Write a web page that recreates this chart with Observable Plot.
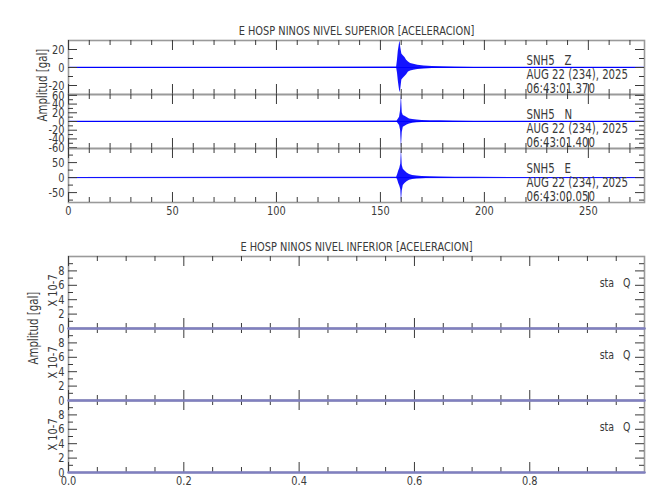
<!DOCTYPE html>
<html><head><meta charset="utf-8">
<script src="https://cdn.jsdelivr.net/npm/d3@7"></script>
<script src="https://cdn.jsdelivr.net/npm/@observablehq/plot@0.6"></script>
<style>
body{margin:0;background:#fff;}
#chart{position:relative;width:650px;height:500px;background:#fff;}
#chart svg text{white-space:pre;}
</style></head><body><div id="chart"></div>
<script>
// ---------- texts ----------
const topTitle = "E HOSP NINOS NIVEL SUPERIOR [ACELERACION]";
const botTitle = "E HOSP NINOS NIVEL INFERIOR [ACELERACION]";
const yLabel = "Amplitud [gal]";
const scaleLabel = "X 10-7";
const stations = ["SNH5   Z", "SNH5   N", "SNH5   E"];
const dates = ["AUG 22 (234), 2025", "AUG 22 (234), 2025", "AUG 22 (234), 2025"];
const times = ["06:43:01.370", "06:43:01.400", "06:43:00.050"];
const lowerStations = ["sta   Q", "sta   Q", "sta   Q"];

// ---------- axes ----------
const topXDomain = [0, 277];
const topXTicks = [0, 50, 100, 150, 200, 250];
const topXMinor = [10, 20, 30, 40, 60, 70, 80, 90, 110, 120, 130, 140, 160, 170, 180, 190, 210, 220, 230, 240, 260, 270];
const botXDomain = [0, 0.999];
const botXTicks = [0, 0.2, 0.4, 0.6, 0.8];
const botXMinor = [0.05, 0.1, 0.15, 0.25, 0.3, 0.35, 0.45, 0.5, 0.55, 0.65, 0.7, 0.75, 0.85, 0.9, 0.95];
const topYDomains = [[-30, 30], [-62, 62], [-83, 97]];
const topYTicks = [[-20, 0, 20], [-60, -40, -20, 0, 20, 40, 60], [-50, 0, 50]];
const topYMinor = [[-10, 10], [-50, -30, -10, 10, 30, 50], [-75, -25, 25, 75]];
const botYDomain = [0, 10];
const botYTicks = [0, 2, 4, 6, 8];
const botYMinor = [1, 3, 5, 7, 9];

// ---------- waveform envelopes (seconds, upper, lower) ----------
const zT  = [0, 157.8, 158.2, 158.6, 159.0, 159.4, 159.8, 160.3, 161.0, 161.8, 162.6, 163.5, 164.5, 166, 168, 171, 175, 180, 186, 195, 277];
const zHi = [0.3, 0.5, 8, 18, 24, 30, 22, 15, 13, 11, 8, 6, 4.5, 3.5, 2.5, 1.8, 1.2, 0.8, 0.5, 0.3, 0.3];
const zLo = [-0.3, -0.5, -6, -15, -22, -28, -24, -14, -12, -10, -8, -5, -4, -3, -2.2, -1.6, -1.1, -0.8, -0.5, -0.3, -0.3];
const nT  = [0, 158.0, 158.6, 159.2, 159.7, 160.1, 160.5, 161.0, 161.8, 162.8, 164, 165.5, 167.5, 170, 174, 179, 185, 195, 277];
const nHi = [0.5, 1, 5, 10, 25, 62, 20, 14, 12, 9, 6, 4.5, 3.5, 2.5, 2, 1.5, 1, 0.6, 0.5];
const nLo = [-0.5, -1, -5, -9, -20, -62, -25, -13, -11, -8, -6, -4, -3, -2.5, -2, -1.5, -1, -0.6, -0.5];
const eT  = [0, 157.8, 158.3, 158.8, 159.3, 159.8, 160.1, 160.5, 161.0, 161.8, 162.8, 164, 165.5, 167.5, 170, 174, 179, 186, 195, 277];
const eHi = [0.5, 1, 10, 22, 30, 45, 97, 40, 28, 22, 15, 10, 7, 5, 4, 3, 2, 1.2, 0.8, 0.5];
const eLo = [-0.5, -1, -8, -20, -28, -40, -83, -45, -26, -20, -14, -9, -6, -5, -3.5, -2.5, -2, -1.2, -0.8, -0.5];
// lower level: flat traces (zero)
const qT = [0, 0.999];
const qV = [0, 0];

const envelopes = [[zT, zHi, zLo], [nT, nHi, nLo], [eT, eHi, eLo]].map(([t, hi, lo]) => t.map((d, i) => ({t: d, hi: hi[i], lo: lo[i]})));
const flat = qT.map((d, i) => ({t: d, v: qV[i]}));

// ---------- layout ----------
const W = 650, ML = 68, MR = 6;
const FONT = '"DejaVu Sans Condensed","DejaVu Sans",sans-serif';
const INK = "#3a3a3a";
const NARROW = 0.84; // horizontal squeeze to mimic the thin vector font
const chart = document.getElementById("chart");

function squeeze(svg) {
  svg.querySelectorAll("text").forEach(t => {
    const old = t.getAttribute("transform") || "";
    t.setAttribute("transform", `${old} scale(${NARROW},1)`);
  });
}

function panel({top, h, xDomain, xMajor, xMinor, yDomain, yMajor, yMinor, yFormat, marks, overMarks, xLabels, xFormat}) {
  const mt = 30, mb = 24;
  const inner = W - ML - MR;
  const svg = Plot.plot({
    width: W, height: h + mt + mb,
    marginLeft: ML, marginRight: MR, marginTop: mt, marginBottom: mb,
    x: {domain: xDomain, axis: null},
    y: {domain: yDomain, axis: null},
    style: {background: "transparent", overflow: "visible", position: "absolute", left: "0px", top: (top - mt) + "px", fontFamily: FONT, fontSize: "13px", color: INK},
    marks: [
      ...marks,
      Plot.frame({stroke: "#9a9a9a", strokeWidth: 1.6}),
      Plot.tickX(xMajor, {x: d => d, insetBottom: h - 10, stroke: INK}),
      Plot.tickX(xMajor, {x: d => d, insetTop: h - 10, stroke: INK}),
      Plot.tickX(xMinor, {x: d => d, insetBottom: h - 5, stroke: INK}),
      Plot.tickX(xMinor, {x: d => d, insetTop: h - 5, stroke: INK}),
      Plot.tickY(yMajor, {y: d => d, insetRight: inner - 9, stroke: INK}),
      Plot.tickY(yMajor, {y: d => d, insetLeft: inner - 9, stroke: INK}),
      Plot.tickY(yMinor, {y: d => d, insetRight: inner - 5, stroke: INK}),
      Plot.tickY(yMinor, {y: d => d, insetLeft: inner - 5, stroke: INK}),
      ...(overMarks || []),
      Plot.axisY(yMajor, {tickSize: 0, tickPadding: 4, label: null, tickFormat: yFormat, fontSize: 13}),
      xLabels ? Plot.axisX(xLabels, {tickSize: 0, tickPadding: 3, label: null, tickFormat: xFormat, fontSize: 13}) : null
    ]
  });
  squeeze(svg);
  return svg;
}

// upper level panels
const topTops = [40, 94, 148];
const topH = 54;
topTops.forEach((top, i) => {
  const marks = [
    Plot.ruleY([0], {stroke: "#0000ff", strokeWidth: 1}),
    Plot.areaY(envelopes[i], {x: "t", y1: "lo", y2: "hi", fill: "#0000ff", fillOpacity: 0.92, clip: true}),
    Plot.text([stations[i] + "\n" + dates[i] + "\n" + times[i]], {text: d => d, frameAnchor: "top-right", textAnchor: "start", lineAnchor: "top", lineHeight: 1.05, dx: -118, dy: 14, fill: INK, fontSize: 13.5})
  ];
  if (i === 0) marks.push(Plot.text([topTitle], {text: d => d, frameAnchor: "top", dy: -15, fill: INK, fontSize: 13}));
  if (i === 1) marks.push(Plot.text([yLabel], {text: d => d, frameAnchor: "left", dx: -26, rotate: -90, fill: INK, fontSize: 13.5}));
  chart.appendChild(panel({top, h: topH, xDomain: topXDomain, xMajor: topXTicks, xMinor: topXMinor,
    yDomain: topYDomains[i], yMajor: topYTicks[i], yMinor: topYMinor[i], yFormat: d => String(d),
    marks, xLabels: i === 2 ? topXTicks : null, xFormat: d => String(d)}));
});

// lower level panels (appended bottom-up so each zero trace sits above the next frame)
const botTops = [256, 328, 400];
const botH = 72;
const botSvgs = botTops.map((top, i) => {
  const marks = [
    Plot.text([lowerStations[i]], {text: d => d, frameAnchor: "top-right", textAnchor: "end", dx: -14, dy: 22, fill: INK, fontSize: 12.5}),
    Plot.text([scaleLabel], {text: d => d, frameAnchor: "left", dx: -16, dy: 14, rotate: -90, fill: INK, fontSize: 13})
  ];
  if (i === 0) marks.push(Plot.text([botTitle], {text: d => d, frameAnchor: "top", dy: -15, fill: INK, fontSize: 13}));
  if (i === 1) marks.push(Plot.text([yLabel], {text: d => d, frameAnchor: "left", dx: -35, rotate: -90, fill: INK, fontSize: 13.5}));
  const overMarks = [Plot.lineY(flat, {x: "t", y: "v", stroke: "#8080c0", strokeWidth: 2.5})];
  return panel({top, h: botH, xDomain: botXDomain, xMajor: botXTicks, xMinor: botXMinor,
    yDomain: botYDomain, yMajor: botYTicks, yMinor: botYMinor, yFormat: d => String(d),
    marks, overMarks, xLabels: i === 2 ? botXTicks : null, xFormat: d3.format(".1f")});
});
botSvgs.slice().reverse().forEach(s => chart.appendChild(s));
</script></body></html>
